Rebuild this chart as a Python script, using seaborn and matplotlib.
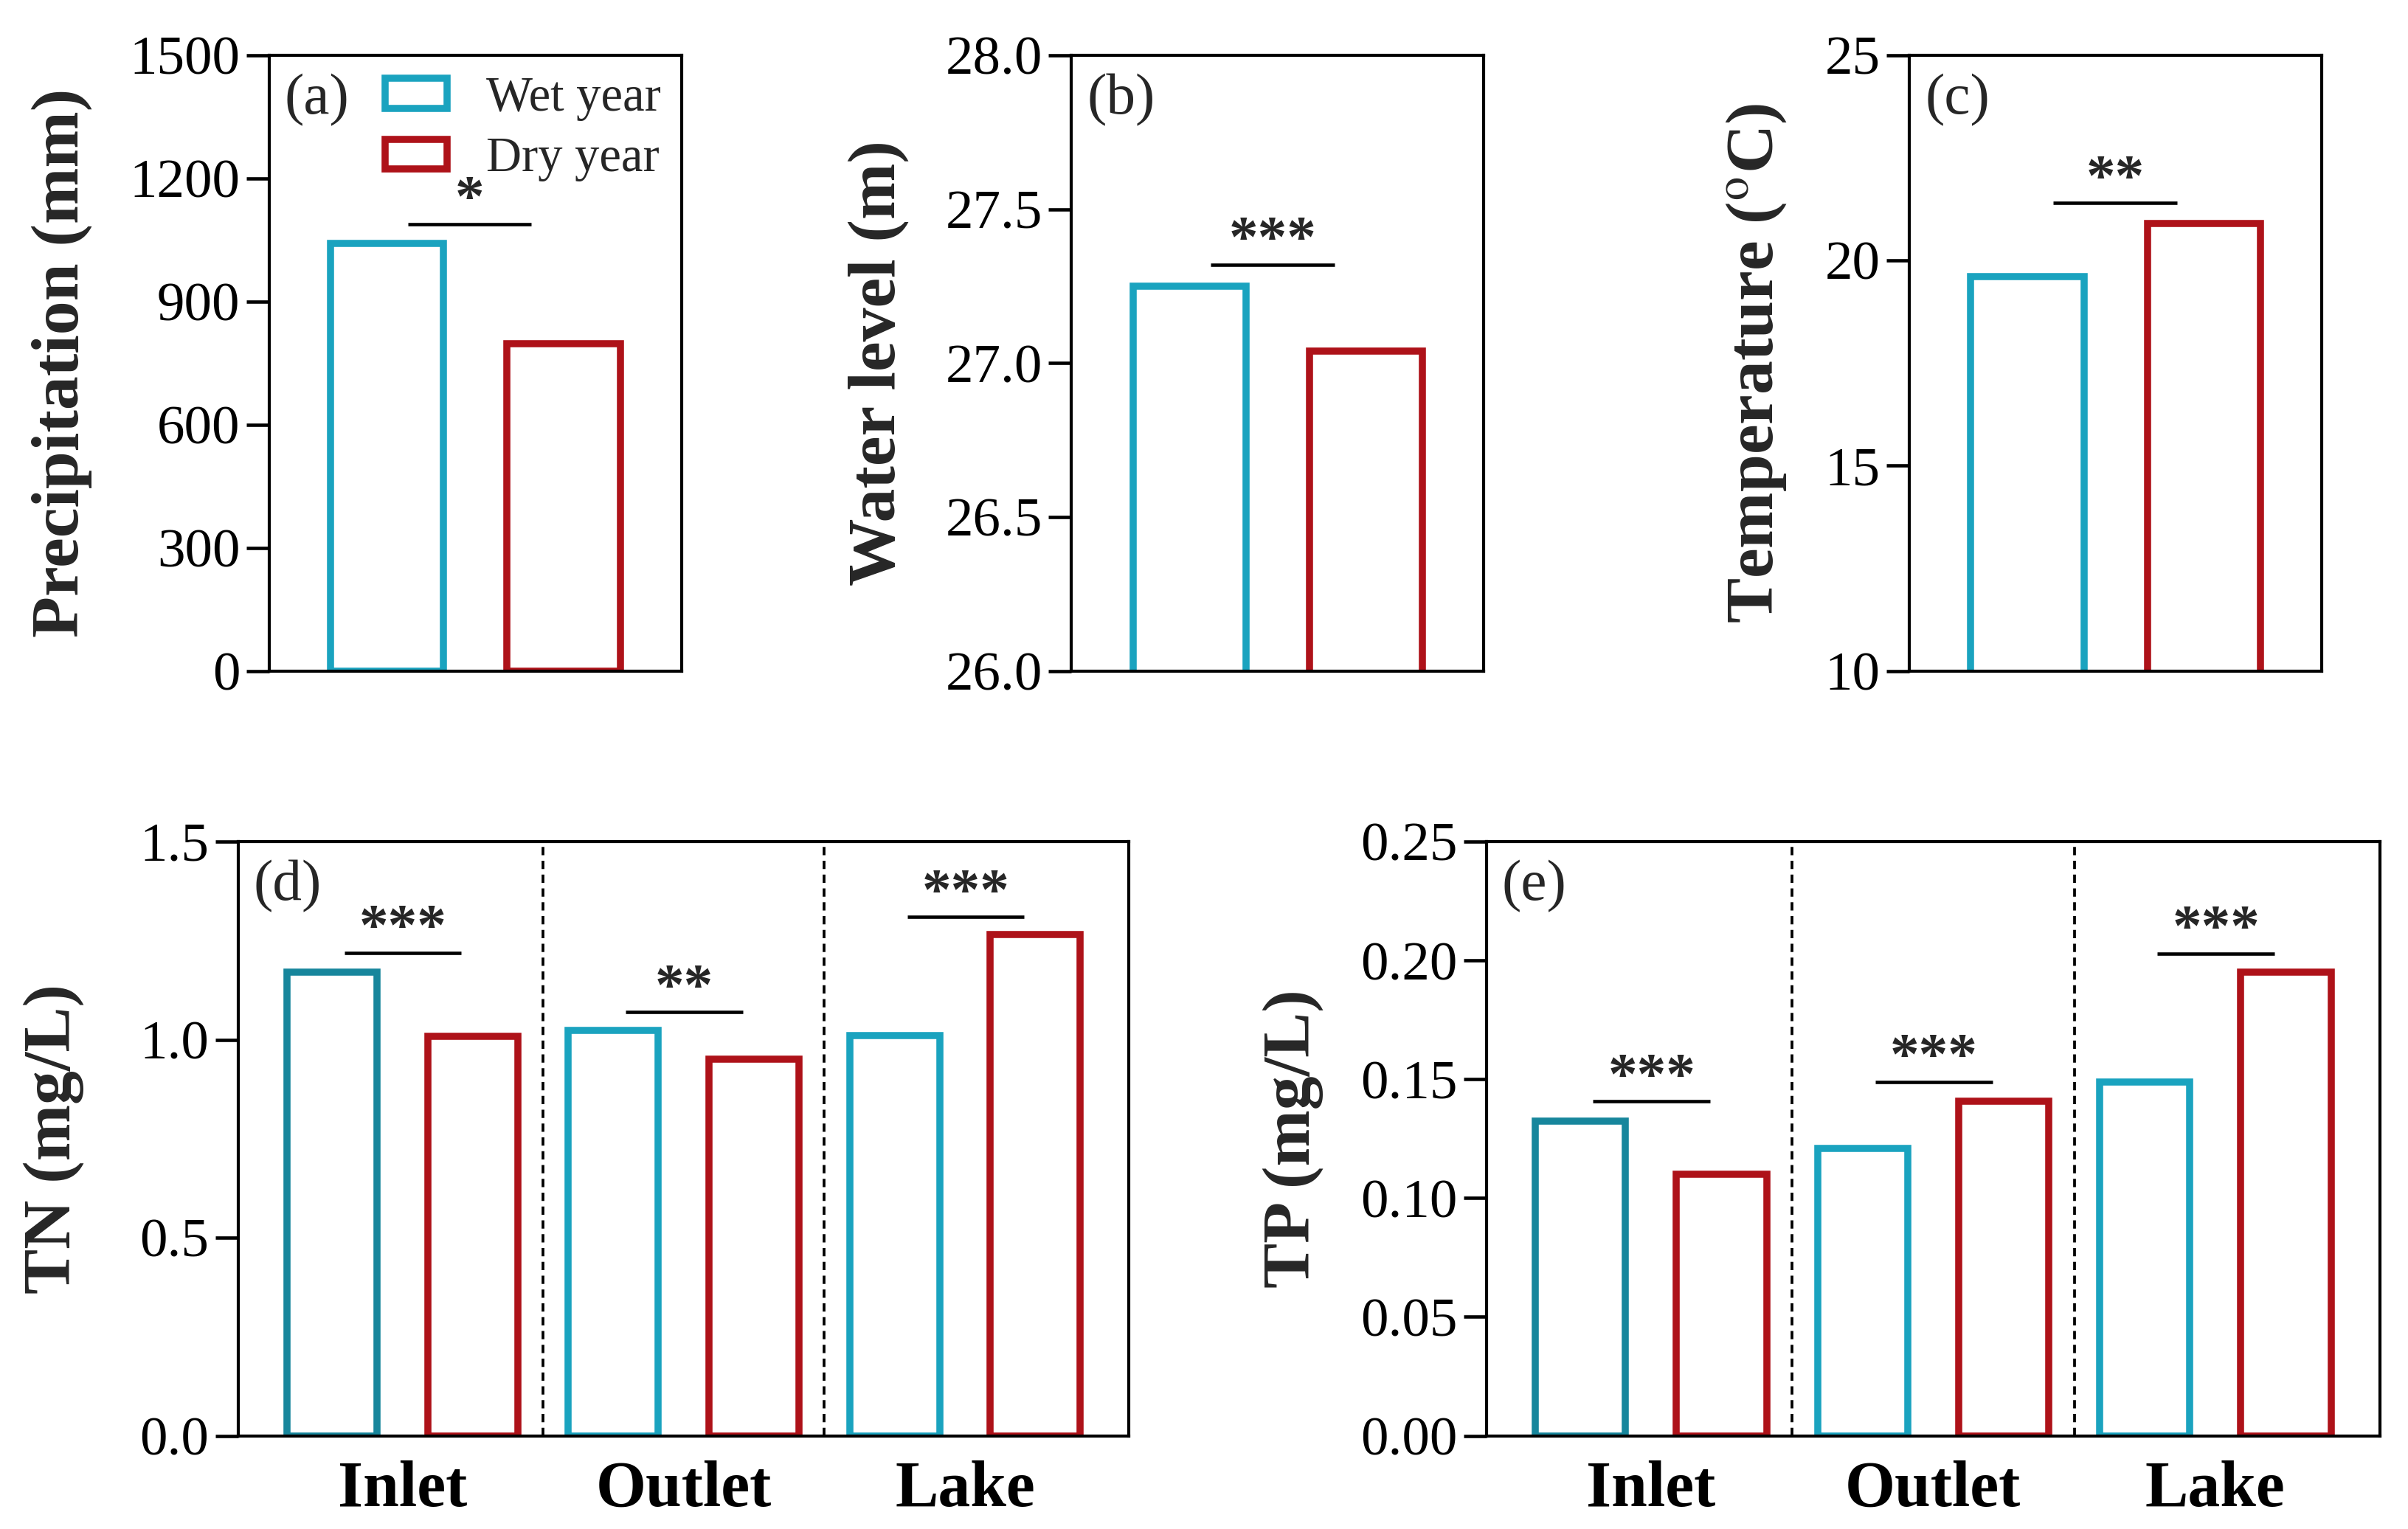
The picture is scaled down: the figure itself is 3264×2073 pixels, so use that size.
import numpy as np
import pandas as pd
import matplotlib
matplotlib.use("Agg")
import matplotlib.pyplot as plt
from matplotlib.patches import Patch
import seaborn as sns

sns.set_theme(style="ticks")
plt.rcParams['font.family'] = ['Liberation Serif', 'DejaVu Serif']
plt.rcParams['mathtext.fontset'] = 'stix'

# ---------------- data ----------------
years = ["Wet year", "Dry year"]
precip = [1041, 798]
water_level = [27.25, 27.04]
temperature = [19.6, 20.9]

sites = ["Inlet", "Outlet", "Lake"]
tn_wet = [1.17, 1.023, 1.011]
tn_dry = [1.008, 0.951, 1.266]
tp_wet = [0.1324, 0.121, 0.149]
tp_dry = [0.110, 0.1407, 0.195]

sig_top = ["*", "***", "**"]
sig_tn = ["***", "**", "***"]
sig_tp = ["***", "***", "***"]

# annotation heights (data units)
sig_top_y = [1089, 27.32, 21.4]
sig_tn_y = [1.22, 1.07, 1.31]
sig_tp_y = [0.1407, 0.149, 0.203]

wet_c = "#1AA3BF"
wet_dark = "#17869C"
dry_c = "#AE1219"

fig = plt.figure(figsize=(10.88, 6.91), dpi=300)

top_specs = [
    dict(vals=precip, ylim=(0, 1500), ticks=np.arange(0, 1501, 300),
         ylabel="Precipitation (mm)", lab="(a)", left=0.1118),
    dict(vals=water_level, ylim=(26, 28), ticks=np.arange(26, 28.01, 0.5),
         ylabel="Water level (m)", lab="(b)", left=0.4450),
    dict(vals=temperature, ylim=(10, 25), ticks=np.arange(10, 25.1, 5),
         ylabel="Temperature ($^{\\mathrm{o}}$C)", lab="(c)", left=0.7930),
]
sig_top_x = [(0.12, 0.818), (0.12, 0.824), (0.146, 0.848)]

def style_axes(ax):
    for s in ax.spines.values():
        s.set_visible(True)
        s.set_linewidth(1.0)
        s.set_color("black")
    ax.tick_params(axis="y", direction="out", length=7.5, width=1.1,
                   labelsize=18, colors="black", pad=2)

def panel_label(ax, lab):
    ax.annotate(lab, xy=(0, 1), xycoords="axes fraction", xytext=(5, -6),
                textcoords="offset points", ha="left", va="top", fontsize=19)

def sig(ax, x0, x1, y, txt):
    ax.plot([x0, x1], [y, y], color="black", lw=1.1, solid_capstyle="butt")
    ax.annotate(txt, xy=((x0 + x1) / 2, y), xycoords="data", xytext=(0, 3),
                textcoords="offset points", ha="center", va="baseline",
                fontsize=19, fontweight="bold")

for i, sp in enumerate(top_specs):
    ax = fig.add_axes([sp["left"], 0.5612, 0.1712, 0.4026])
    df = pd.DataFrame({"year": years, "value": sp["vals"]})
    sns.barplot(data=df, x="year", y="value", hue="year", order=years,
                hue_order=years, palette=[wet_c, dry_c], fill=False,
                linewidth=2.3, width=0.64, legend=False, ax=ax)
    for p, c in zip(ax.patches, [wet_c, dry_c]):
        p.set_edgecolor(c)
        p.set_facecolor("none")
        p.set_linewidth(2.3)
    ax.set_xlim(-0.667, 1.667)
    ax.set_ylim(*sp["ylim"])
    ax.set_yticks(sp["ticks"])
    ax.set_xticks([])
    ax.set_xlabel("")
    ax.set_ylabel(sp["ylabel"], fontsize=22, fontweight="bold", labelpad=12)
    style_axes(ax)
    panel_label(ax, sp["lab"])
    x0, x1 = sig_top_x[i]
    sig(ax, x0, x1, sig_top_y[i], sig_top[i])
    if i == 0:
        handles = [Patch(facecolor="none", edgecolor=wet_c, linewidth=2.3),
                   Patch(facecolor="none", edgecolor=dry_c, linewidth=2.3)]
        ax.legend(handles, years, loc="upper right", bbox_to_anchor=(1.0, 1.0),
                  frameon=False, fontsize=16, handlelength=1.25,
                  handleheight=0.55, handletextpad=0.8, labelspacing=0.32,
                  borderaxespad=0.0, borderpad=0.42)

bottom_specs = [
    dict(wet=tn_wet, dry=tn_dry, ylim=(0, 1.5), ticks=np.arange(0, 1.51, 0.5),
         ylabel="TN (mg/L)", lab="(d)", left=0.0989, width=0.370,
         sig=sig_tn, sy=sig_tn_y, pad=18),
    dict(wet=tp_wet, dry=tp_dry, ylim=(0, 0.25), ticks=np.arange(0, 0.251, 0.05),
         ylabel="TP (mg/L)", lab="(e)", left=0.6173, width=0.371,
         sig=sig_tp, sy=sig_tp_y, pad=12),
]

for sp in bottom_specs:
    ax = fig.add_axes([sp["left"], 0.061, sp["width"], 0.3885])
    df = pd.DataFrame({
        "site": sites * 2,
        "year": [years[0]] * 3 + [years[1]] * 3,
        "value": list(sp["wet"]) + list(sp["dry"]),
    })
    sns.barplot(data=df, x="site", y="value", hue="year", order=sites,
                hue_order=years, palette=[wet_c, dry_c], fill=False,
                linewidth=2.3, width=1.0, gap=0.36, legend=False, ax=ax)
    cols = [wet_dark, wet_c, wet_c, dry_c, dry_c, dry_c]
    for p, c in zip(ax.patches, cols):
        p.set_edgecolor(c)
        p.set_facecolor("none")
        p.set_linewidth(2.3)
    ax.set_xlim(-0.583, 2.583)
    ax.set_ylim(*sp["ylim"])
    ax.set_yticks(sp["ticks"])
    for xv in [0.5, 1.5]:
        ax.axvline(xv, color="black", lw=0.9, ls=(0, (3, 2)))
    ax.set_xlabel("")
    ax.set_ylabel(sp["ylabel"], fontsize=22, fontweight="bold",
                  labelpad=sp["pad"])
    style_axes(ax)
    ax.tick_params(axis="x", length=0, labelsize=21, pad=8, colors="black")
    for t in ax.get_xticklabels():
        t.set_fontweight("bold")
    panel_label(ax, sp["lab"])
    for k in range(3):
        sig(ax, k - 0.205, k + 0.21, sp["sy"][k], sp["sig"][k])

fig.savefig("out.png", dpi=300)
